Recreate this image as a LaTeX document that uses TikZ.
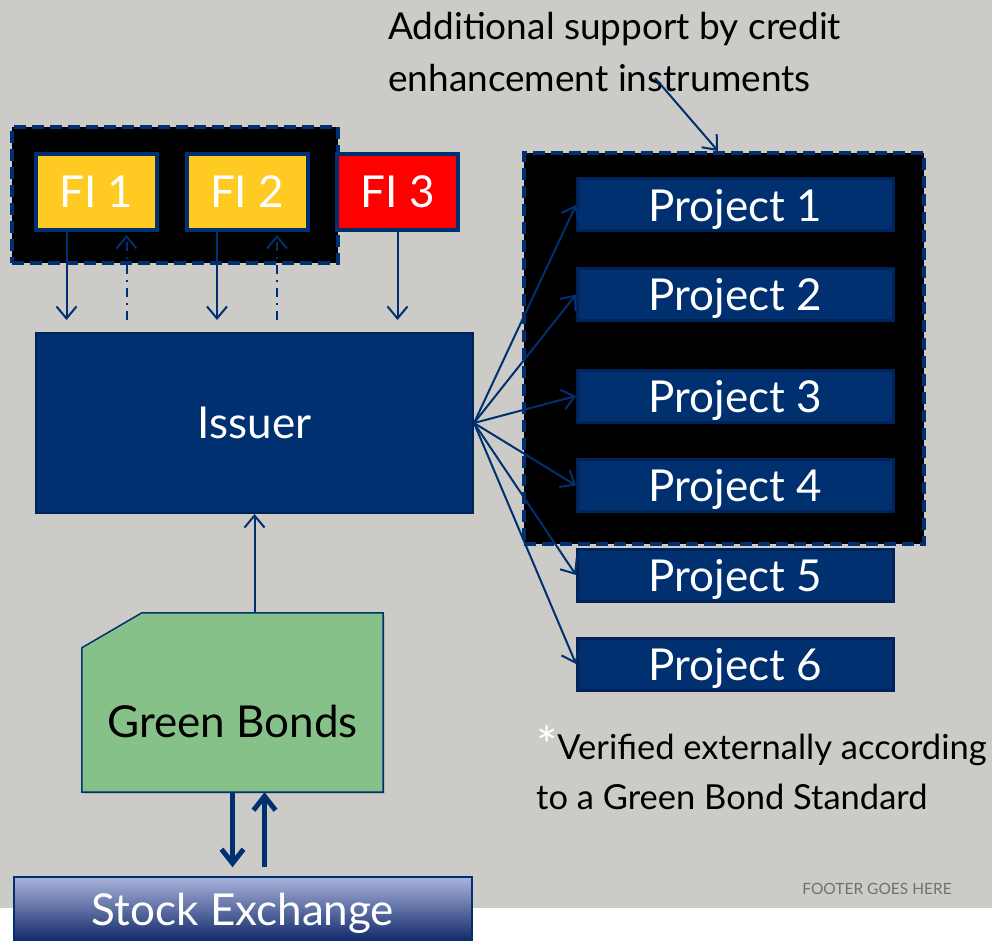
\documentclass[tikz,border=0pt]{standalone}
\usepackage{fontspec}
\setmainfont{Lato}
\usetikzlibrary{arrows.meta,positioning,calc,shadows}
\definecolor{slidegray}{HTML}{CDCBC7}
\definecolor{navy}{HTML}{003070}
\definecolor{navydark}{HTML}{00245A}
\definecolor{figold}{HTML}{FFCA22}
\definecolor{fired}{HTML}{FF0000}
\definecolor{bondgreen}{HTML}{86C18A}
\definecolor{stocktop}{HTML}{AAB4DC}
\definecolor{stockbot}{HTML}{10296A}
\definecolor{footgray}{HTML}{707070}

\begin{document}
\begin{tikzpicture}[x=1pt, y=-1pt,
  bigtxt/.style={font=\fontsize{44}{48}\selectfont},
  fibox/.style={bigtxt, draw=navy, line width=4pt, text=white, minimum width=121pt, minimum height=76pt, inner sep=0pt},
  groupbox/.style={draw=navy, fill=black, line width=4pt, dash pattern=on 12pt off 6pt, inner sep=0pt},
  projbox/.style={bigtxt, fill=navy, draw=navydark, line width=3pt, text=white, minimum width=316pt, minimum height=52pt, text depth=0pt, inner sep=0pt},
  flow/.style={draw=navy, line width=2pt, -{Straight Barb[length=12pt,width=20pt]}},
  dashflow/.style={flow, dash pattern=on 9pt off 6pt on 2pt off 6pt},
  fatflow/.style={draw=navy, line width=5pt, -{Straight Barb[length=14pt,width=22pt]}},
  note/.style={font=\fontsize{37}{52}\selectfont, align=left, inner sep=0pt},
]
% slide background, 1pt = 1px of the slide
\useasboundingbox (0,0) rectangle (992,941);
\fill[slidegray] (0,0) rectangle (992,908);

% dashed groups (credit enhancement)
\node[groupbox, minimum width=326pt, minimum height=136pt] (fis) at (175,195) {};
\node[groupbox, minimum width=400pt, minimum height=391pt] (prj) at (724,348.5) {};

% financial institutions
\node[fibox, fill=figold] (fi1) at (96.5,192) {FI 1};
\node[fibox, fill=figold] (fi2) at (247,192) {FI 2};
\node[fibox, fill=fired]  (fi3) at (397.5,192) {FI 3};

\node[bigtxt, fill=navy, draw=navydark, line width=2pt, text=white, minimum width=437pt, minimum height=180pt] (issuer) at (254.5,423) {Issuer};

% loans down, repayments up
\foreach \f in {fi1,fi2} {
  \draw[flow, shorten >=12pt] ([shift={(-30,0)}]\f.south) -- ([shift={(-30,0)}]\f.south |- issuer.north);
  \draw[dashflow, shorten <=12pt, shorten >=3pt] ([shift={(30,0)}]\f.south |- issuer.north) -- ([shift={(30,0)}]\f.south);
}
\draw[flow, shorten >=12pt] (fi3.south) -- (fi3.south |- issuer.north);

% projects
\foreach \i/\y in {1/205,2/294.5,3/396,4/485.5,5/575,6/664} {
  \node[projbox] (p\i) at (735.5,\y) {Project \i};
  \draw[flow] (issuer.east) -- (p\i.west);
}

% green bonds
\node[minimum width=301pt, minimum height=179pt, inner sep=0pt] (bonds) at (232.5,702.5) {};
\draw[fill=bondgreen, draw=navy, line width=1.5pt, drop shadow={shadow xshift=2pt, shadow yshift=-2pt, opacity=0.3}]
  ([yshift=-35pt]bonds.north west) -- ([xshift=60pt]bonds.north west) -- (bonds.north east)
  -- (bonds.south east) -- (bonds.south west) -- cycle;
\node[bigtxt] (bondstxt) at (232.5,721) {Green Bonds};
\draw[flow] (issuer.south |- bonds.north) -- (issuer.south);

\node[bigtxt, draw=navy, line width=1.5pt, top color=stocktop, bottom color=stockbot, middle color=stocktop!50!stockbot, text=white,
  minimum width=458pt, minimum height=64pt, text depth=0pt, inner sep=0pt] (stock) at (243,909) {Stock Exchange};
\draw[fatflow, shorten >=9pt] (bonds.south) -- (bonds.south |- stock.north);
\draw[fatflow, shorten <=9pt] ([shift={(32,0)}]bonds.south |- stock.north) -- ([shift={(32,0)}]bonds.south);

% notes
\node[note, anchor=north west] (support) at (388,12) {Additional support by credit\\enhancement instruments};
\coordinate (supportend) at (655,78);
\draw[flow] (supportend) -- ([shift={(-6,0)}]prj.north);

\node[note, font=\fontsize{34.5}{50}\selectfont, anchor=north west] (verified) at (536,734)
  {\smash{\raisebox{-4pt}{\textcolor{white}{\fontsize{50}{48}\selectfont*}}}Verified externally according\\to a Green Bond Standard};

\node[font=\fontsize{15.5}{15.5}\selectfont, text=footgray] (footer) at (877,889) {FOOTER GOES HERE};
\end{tikzpicture}
\end{document}
